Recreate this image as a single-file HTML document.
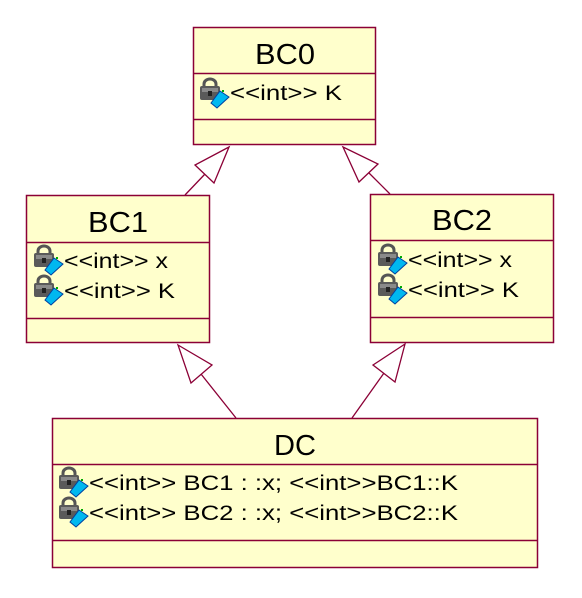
<!DOCTYPE html>
<html><head><meta charset="utf-8"><style>
html,body{margin:0;padding:0;background:#fff;}
svg{display:block;}
text{font-family:"Liberation Sans",Arial,sans-serif;fill:#000;}
</style></head><body>
<svg width="582" height="598" viewBox="0 0 582 598" xmlns="http://www.w3.org/2000/svg">
<defs>
<g id="ic">
  <path d="M4,8 v-3 a6,5 0 0 1 12,0 v3" fill="none" stroke="#555" stroke-width="3"/>
  <rect x="0" y="7" width="20" height="14" rx="2" fill="#5a5a5a"/>
  <rect x="2" y="9" width="16" height="4" fill="#8a8a8a"/>
  <rect x="8" y="12" width="4" height="5" fill="#222"/>
  <polygon points="20,12 29,18 17,29 11,24" fill="#00b8f0" stroke="#0040a0" stroke-width="1"/>
  <rect x="22" y="11" width="2" height="2" fill="#0a0"/>
</g>
</defs>
<g fill="#ffffcc" stroke="#8b0036" stroke-width="1.5">
  <rect x="193.5" y="27.5" width="182" height="117"/>
  <line x1="193.5" y1="73.5" x2="375.5" y2="73.5"/>
  <line x1="193.5" y1="119.5" x2="375.5" y2="119.5"/>
  <rect x="26.5" y="195.5" width="183" height="147"/>
  <line x1="26.5" y1="242.5" x2="209.5" y2="242.5"/>
  <line x1="26.5" y1="318.5" x2="209.5" y2="318.5"/>
  <rect x="370.5" y="194.5" width="183" height="148"/>
  <line x1="370.5" y1="240.5" x2="553.5" y2="240.5"/>
  <line x1="370.5" y1="317.5" x2="553.5" y2="317.5"/>
  <rect x="52.5" y="418.5" width="485" height="149"/>
  <line x1="52.5" y1="464.5" x2="537.5" y2="464.5"/>
  <line x1="52.5" y1="540.5" x2="537.5" y2="540.5"/>
</g>
<g fill="none" stroke="#8b0036" stroke-width="1.3">
  <polygon points="229,147 195,165 214,183"/>
  <line x1="205" y1="174" x2="185" y2="195"/>
  <polygon points="343,147 378,164 359,182"/>
  <line x1="369" y1="173" x2="390" y2="194"/>
  <polygon points="178,345 212,365 191,383"/>
  <line x1="201" y1="374" x2="236" y2="418"/>
  <polygon points="405,344 373,365 395,382"/>
  <line x1="384" y1="373" x2="352" y2="418"/>
</g>
<g font-size="29" text-anchor="middle">
  <text x="285" y="64" textLength="60" lengthAdjust="spacingAndGlyphs">BC0</text>
  <text x="118" y="232" textLength="60" lengthAdjust="spacingAndGlyphs">BC1</text>
  <text x="462" y="230" textLength="60" lengthAdjust="spacingAndGlyphs">BC2</text>
  <text x="295" y="455" textLength="42" lengthAdjust="spacingAndGlyphs">DC</text>
</g>
<g font-size="21">
  <use href="#ic" x="200" y="79"/><text x="230" y="100" textLength="112" lengthAdjust="spacingAndGlyphs">&lt;&lt;int&gt;&gt; K</text>
  <use href="#ic" x="34" y="246"/><text x="64" y="268" textLength="104" lengthAdjust="spacingAndGlyphs">&lt;&lt;int&gt;&gt; x</text>
  <use href="#ic" x="34" y="276"/><text x="64" y="298" textLength="111" lengthAdjust="spacingAndGlyphs">&lt;&lt;int&gt;&gt; K</text>
  <use href="#ic" x="378" y="245"/><text x="408" y="267" textLength="104" lengthAdjust="spacingAndGlyphs">&lt;&lt;int&gt;&gt; x</text>
  <use href="#ic" x="378" y="275"/><text x="408" y="297" textLength="111" lengthAdjust="spacingAndGlyphs">&lt;&lt;int&gt;&gt; K</text>
  <use href="#ic" x="59" y="468"/><text x="89" y="490" textLength="369" lengthAdjust="spacingAndGlyphs">&lt;&lt;int&gt;&gt; BC1 : :x; &lt;&lt;int&gt;&gt;BC1::K</text>
  <use href="#ic" x="59" y="498"/><text x="89" y="520" textLength="369" lengthAdjust="spacingAndGlyphs">&lt;&lt;int&gt;&gt; BC2 : :x; &lt;&lt;int&gt;&gt;BC2::K</text>
</g>
</svg>
</body></html>
